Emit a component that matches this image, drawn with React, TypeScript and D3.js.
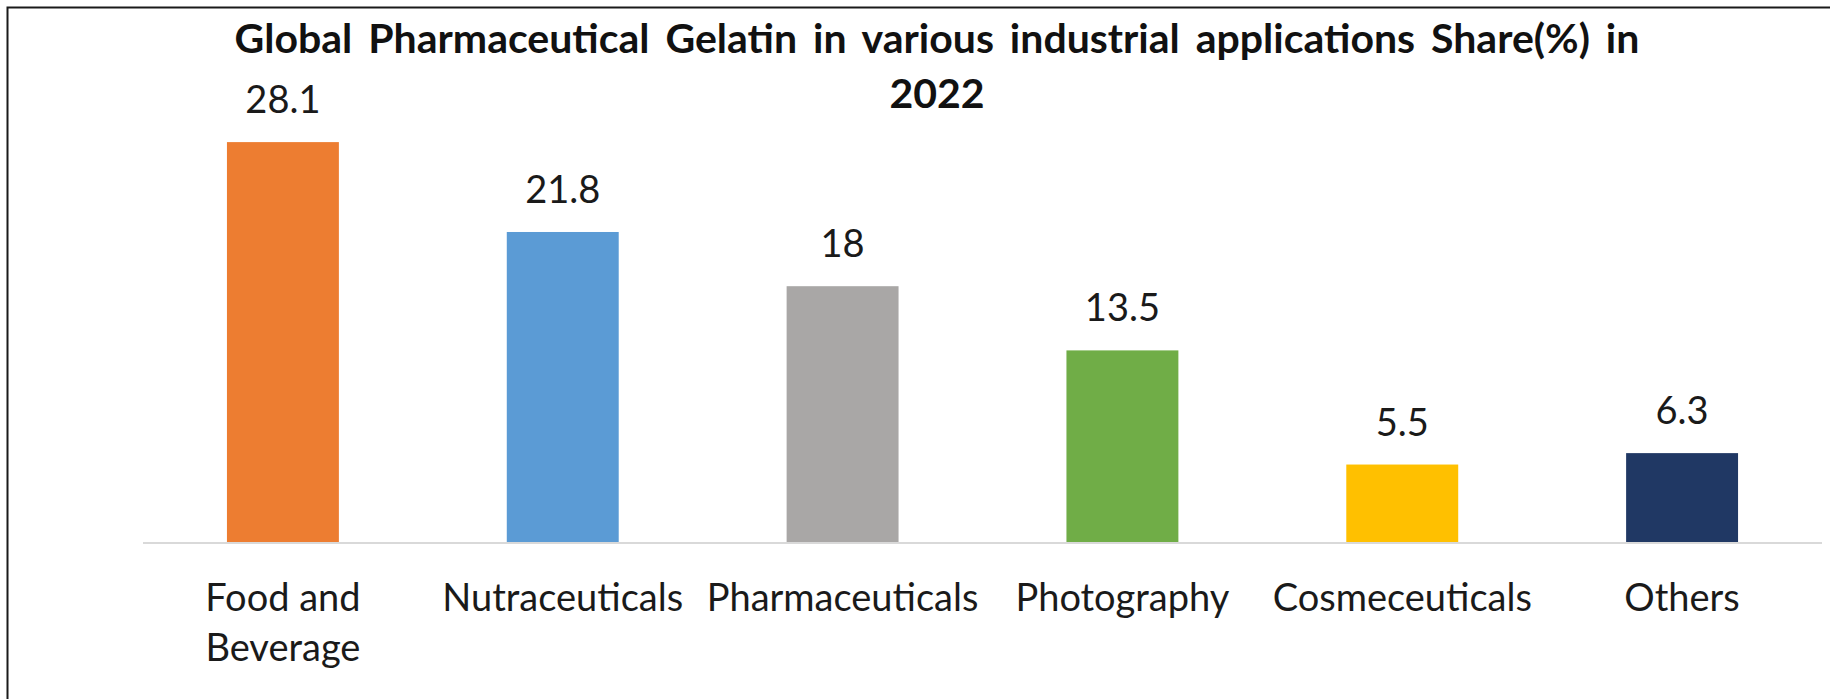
import React from "react";
import * as d3 from "d3";

const categories = [
  "Food and Beverage",
  "Nutraceuticals",
  "Pharmaceuticals",
  "Photography",
  "Cosmeceuticals",
  "Others",
];
const shares = [28.1, 21.8, 18, 13.5, 5.5, 6.3];
const barColors = ["#ED7D31", "#5B9BD5", "#A9A7A6", "#70AD47", "#FFC000", "#203864"];
const titleLines = [
  "Global Pharmaceutical Gelatin in various industrial applications Share(%) in",
  "2022",
];

function wrap(name: string): string[] {
  if (name.length > 15 && name.includes(" ")) {
    const words = name.split(" ");
    const last = words.pop() as string;
    return [words.join(" "), last];
  }
  return [name];
}

export default function App() {
  const W = 1830;
  const H = 699;
  const x = d3
    .scaleBand<string>()
    .domain(categories)
    .range([143, 1822])
    .paddingInner(0.6)
    .paddingOuter(0.3);
  const y = d3.scaleLinear().domain([0, 30]).range([543, 115]);
  const font = "Lato, 'Open Sans', sans-serif";

  return (
    <svg
      width={W}
      height={H}
      viewBox={`0 0 ${W} ${H}`}
      style={{ position: "absolute", left: 0, top: 0, background: "#fff" }}
    >
      <rect x={0} y={0} width={W} height={H} fill="#fff" />
      <rect x={7.5} y={7.5} width={W + 10} height={H + 10} fill="#fff" stroke="#1a1a1a" strokeWidth={2} />
      <g fontFamily={font} fill="#111">
        {titleLines.map((t, i) => (
          <text
            key={i}
            x={937}
            y={53 + i * 55}
            textAnchor="middle"
            fontWeight={700}
            fontSize={41}
            wordSpacing={6}
          >
            {t}
          </text>
        ))}
      </g>
      <g>
        {categories.map((c, i) => (
          <rect
            key={c}
            x={x(c)}
            y={y(shares[i])}
            width={x.bandwidth()}
            height={y(0) - y(shares[i])}
            fill={barColors[i]}
          />
        ))}
      </g>
      <line x1={143} x2={1822} y1={y(0)} y2={y(0)} stroke="#D9D9D9" strokeWidth={2} />
      <g fontFamily={font} fill="#1a1a1a" fontSize={38}>
        {categories.map((c, i) => (
          <text key={c} x={(x(c) as number) + x.bandwidth() / 2} y={y(shares[i]) - 29} textAnchor="middle">
            {d3.format("")(shares[i])}
          </text>
        ))}
      </g>
      <g fontFamily={font} fill="#1a1a1a" fontSize={38}>
        {categories.map((c) => (
          <text key={c} x={(x(c) as number) + x.bandwidth() / 2} y={611} textAnchor="middle">
            {wrap(c).map((line, j) => (
              <tspan key={j} x={(x(c) as number) + x.bandwidth() / 2} dy={j === 0 ? 0 : 50}>
                {line}
              </tspan>
            ))}
          </text>
        ))}
      </g>
    </svg>
  );
}
